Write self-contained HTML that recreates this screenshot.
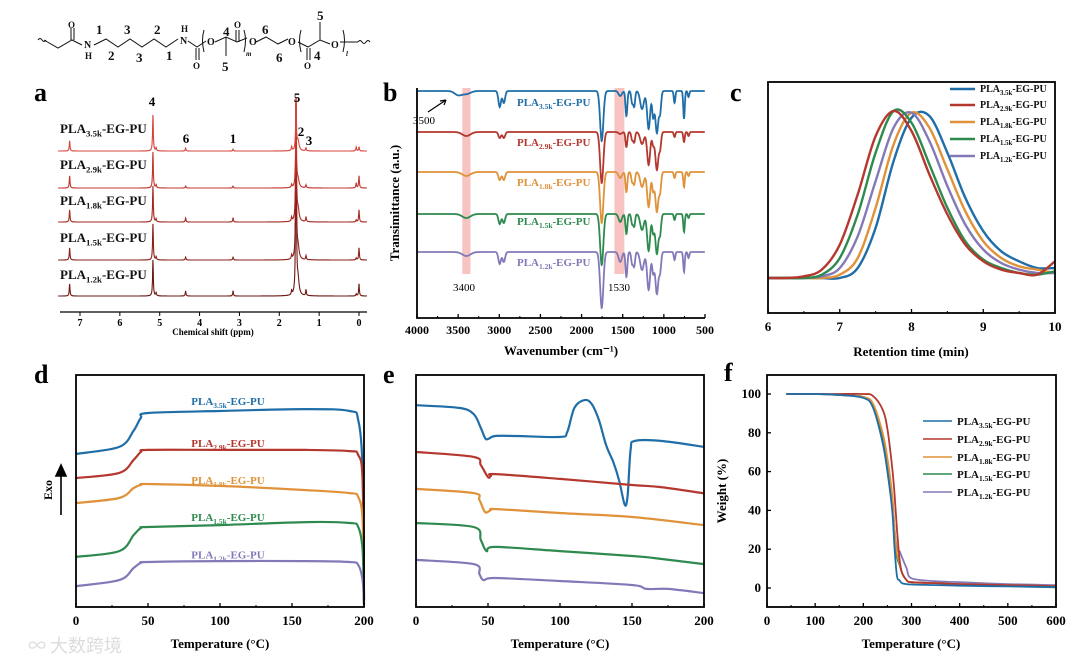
<!DOCTYPE html>
<html><head><meta charset="utf-8">
<style>
html,body{margin:0;padding:0;background:#fff;}
svg{display:block;font-family:"Liberation Serif","Noto Serif CJK SC",serif;}
</style></head>
<body>
<svg id="fig" width="1080" height="663" viewBox="0 0 1080 663" xmlns="http://www.w3.org/2000/svg">
<rect x="0" y="0" width="1080" height="663" fill="#fff"/>
<g stroke="#111" stroke-width="1" fill="none">
  <path d="M38,40 q2,-3 4,0 q2,3 4,0" />
  <polyline points="44,40 58,48 72,40 82,45"/>
  <line x1="71" y1="40" x2="71" y2="28"/><line x1="74" y1="40" x2="74" y2="28"/>
  <polyline points="94,45 106,39 118,47 130,39 142,47 154,39 166,47 178,39"/>
  <polyline points="188,41 197,47 206,41"/>
  <line x1="196" y1="48" x2="196" y2="60"/><line x1="199" y1="48" x2="199" y2="60"/>
  <path d="M204,30 q-3,10 0,22"/>
  <polyline points="215,42 226,37 237,42 247,38"/>
  <line x1="226" y1="37" x2="226" y2="56"/>
  <line x1="236" y1="42" x2="236" y2="30"/><line x1="239" y1="42" x2="239" y2="30"/>
  <path d="M244,30 q3,10 0,22"/>
  <polyline points="256,42 266,37 278,44 288,39"/>
  <path d="M301,30 q-3,10 0,22"/>
  <polyline points="298,42 308,47 320,40 330,44"/>
  <line x1="307" y1="48" x2="307" y2="60"/><line x1="310" y1="48" x2="310" y2="60"/>
  <line x1="320" y1="40" x2="320" y2="22"/>
  <path d="M343,30 q3,10 0,22"/>
  <polyline points="340,42 358,42"/>
  <path d="M358,42 q2,-3 4,0 q2,3 4,0 q2,-3 4,0"/>
</g>
<g font-weight="bold" font-size="13" fill="#111">
  <text x="68" y="28" font-size="9">O</text>
  <text x="84" y="48" font-size="10">N</text><text x="85" y="59" font-size="9">H</text>
  <text x="96" y="34">1</text><text x="108" y="60">2</text><text x="124" y="34">3</text><text x="136" y="62">3</text><text x="154" y="34">2</text><text x="166" y="60">1</text>
  <text x="180" y="44" font-size="10">N</text><text x="181" y="32" font-size="9">H</text>
  <text x="193" y="69" font-size="9">O</text>
  <text x="207" y="45" font-size="10">O</text>
  <text x="223" y="36">4</text><text x="222" y="71">5</text>
  <text x="234" y="28" font-size="9">O</text>
  <text x="246" y="56" font-size="7" font-style="italic">m</text>
  <text x="249" y="45" font-size="10">O</text>
  <text x="262" y="34">6</text><text x="276" y="62">6</text>
  <text x="288" y="45" font-size="10">O</text>
  <text x="304" y="69" font-size="9">O</text>
  <text x="314" y="60">4</text><text x="317" y="20">5</text>
  <text x="331" y="48" font-size="10">O</text>
  <text x="346" y="56" font-size="7" font-style="italic">l</text>
</g>
<g font-weight="bold" font-size="26" fill="#000">
  <text x="34" y="101">a</text><text x="383" y="101">b</text><text x="730" y="101">c</text>
  <text x="34" y="383">d</text><text x="383" y="383">e</text><text x="724" y="381">f</text>
</g>
<text x="28" y="652" font-size="18" fill="#dcdcdc" font-family="'Noto Sans CJK SC',sans-serif">∞ 大数跨境</text>
</svg>
<script>
// ---------- DATA ----------
const labelsSub=['3.5k','2.9k','1.8k','1.5k','1.2k'];
const mainColors=['#1f6ea8','#b5382f','#e0923a','#2e8a4f','#8479b8'];
const nmrColors=['#d8443c','#c2342c','#a52820','#8a2018','#6c1810'];
// NMR (panel a)
const nmrShifts=[7.26,5.17,5.09,4.35,3.16,1.69,1.58,1.53,1.33,0.07,0.0];
const nmrH35=[10,36,3,3,2,4,51,10,3,4,4];
const nmrH29=[12,36,3,2,2,3,90,8,3,5,12];
const nmrH18=[12,36,3,4,4,4,125,12,5,2,12];
const nmrH15=[12,36,3,3,3,4,160,12,4,2,12];
const nmrH12=[12,36,3,5,5,4,195,15,6,2,12];
const nmrTicks=[7,6,5,4,3,2,1,0];
// FTIR (panel b)
const irBands=[3500,3400,2995,2945,1755,1530,1455,1385,1360,1265,1185,1130,1085,1045,870,755,700];
const irD35=[4,3,16,12,50,5,25,12,15,18,38,25,42,20,12,28,6];
const irD29=[0,4,6,6,51,2,15,8,10,12,33,12,38,15,5,10,4];
const irD18=[0,4,8,8,51,6,20,10,12,15,35,18,40,18,6,15,4];
const irD15=[0,4,10,9,51,8,20,10,12,16,37,18,40,18,6,18,4];
const irD12=[0,4,12,10,56,10,25,12,14,18,38,20,42,18,8,20,6];
const irTicks=[4000,3500,3000,2500,2000,1500,1000,500];
// GPC (panel c)
const gpcTime=[6,6.25,6.5,6.75,7,7.25,7.5,7.75,8,8.25,8.5,8.75,9,9.25,9.5,9.75,10];
const gpc35=[0,0,0,0,0,0.06,0.3,0.7,0.96,0.97,0.75,0.48,0.28,0.16,0.1,0.06,0.06];
const gpc29=[0,0,0.01,0.05,0.2,0.5,0.85,1.0,0.88,0.62,0.38,0.2,0.1,0.05,0.03,0.02,0.1];
const gpc18=[0,0,0,0,0.02,0.12,0.42,0.8,0.99,0.9,0.65,0.4,0.22,0.12,0.07,0.05,0.03];
const gpc15=[0,0,0,0.02,0.12,0.38,0.75,1,0.93,0.68,0.42,0.22,0.11,0.06,0.03,0.02,0.04];
const gpc12=[0,0,0,0.01,0.06,0.25,0.58,0.9,0.99,0.82,0.55,0.32,0.17,0.09,0.05,0.03,0.03];
const gpcTicks=[6,7,8,9,10];
// DSC heating (panel d)
const dscT=[0,30,40,45,50,100,160,190,196,199,200];
const dscD35=[66,69,76,81.5,83.6,84.5,85.3,84.5,80.6,59,3];
const dscD29=[55.6,57.8,63.4,66.8,67.7,67.7,67.7,67.2,65.5,54.7,3];
const dscD18=[44.8,47,51.3,52.6,53,52.2,50.4,49.1,47.4,37.5,3];
const dscD15=[21.6,24.1,31,34,34.5,35.3,36.6,36.2,34.5,24.6,1];
const dscD12=[9,11.6,16.8,19,19.4,19.8,19.8,19.4,18.1,11.6,1];
const dscLabelY=[87,69,53,37,21];
// DSC cooling (panel e)
const dscE35T=[0,30,40,45,48,50,55,70,100,105,110,117,122,127,132,137,141,145,147,149,152,170,200];
const dscE35=[87,85.8,83.2,77.2,72.8,72.4,73.7,73.7,73.3,75.4,85.8,89.2,87.5,80.6,69.8,62.5,54.7,44,48.3,67.7,71.6,71.6,69];
const dscE29T=[0,40,45,50,52,55,100,150,170,200];
const dscE29=[66.8,64.7,61.2,56,56.5,57.3,55.2,52.6,51.7,49];
const dscE18T=[0,40,44,48,52,56,100,150,200];
const dscE18=[50.9,49.1,46.1,40.9,41.8,42.2,40.5,38.8,35.3];
const dscE15T=[0,40,45,49,55,100,150,165,200];
const dscE15=[36.2,34.5,28.9,24.1,25.9,24.1,22,21.1,18.5];
const dscE12T=[0,40,44,47,55,100,150,160,175,200];
const dscE12=[20.3,18.5,14.2,11.6,12.5,11.2,9.5,7.8,7.8,6];
const tempTicks=[0,50,100,150,200];
// TGA (panel f)
const tgaT=[40,100,150,200,220,240,250,260,265,270,275,280,290,300,350,400,500,600];
const tga35=[100,100,99.5,98,93,75,60,40,20,6,4,2.5,2,1.8,1.5,1.2,0.8,0.5];
const tga29=[100,100,100,100,99,92,82,62,48,30,15,8,4,3,2.5,2,1.5,1];
const tga18=[100,100,99.5,98.5,95,80,67,48,30,18,13,8,4,3,2.5,2,1.5,1];
const tga15=[100,100,99.5,98.5,94,78,64,45,28,16,12,8,4,3,2.5,2,1,0.3];
const tga12=[100,100,99.5,98.5,94,79,65,47,30,20,19,16,10,5,3.5,3,2,1.5];
const tgaXTicks=[0,100,200,300,400,500,600];
const tgaYTicks=[0,20,40,60,80,100];

// ---------- HELPERS ----------
const NS='http://www.w3.org/2000/svg';
const svg=document.getElementById('fig');
function el(tag,attrs,parent){const e=document.createElementNS(NS,tag);for(const k in attrs)e.setAttribute(k,attrs[k]);(parent||svg).appendChild(e);return e;}
function lin(d0,d1,r0,r1){return v=>r0+(v-d0)*(r1-r0)/(d1-d0);}
function linePath(pts){return 'M'+pts.map(p=>p[0].toFixed(1)+','+p[1].toFixed(1)).join('L');}
function smoothPath(p){let d='M'+p[0][0].toFixed(1)+','+p[0][1].toFixed(1);
 for(let i=0;i<p.length-1;i++){const a=p[Math.max(0,i-1)],b=p[i],c=p[i+1],e=p[Math.min(p.length-1,i+2)];
  const c1=[b[0]+(c[0]-a[0])/6,b[1]+(c[1]-a[1])/6],c2=[c[0]-(e[0]-b[0])/6,c[1]-(e[1]-b[1])/6];
  d+='C'+c1[0].toFixed(1)+','+c1[1].toFixed(1)+' '+c2[0].toFixed(1)+','+c2[1].toFixed(1)+' '+c[0].toFixed(1)+','+c[1].toFixed(1);}
 return d;}
function sampleLabel(parent,x,y,sub,fill,size,anchor){
 const t=el('text',{x:x,y:y,'font-size':size,'font-weight':'bold',fill:fill,'text-anchor':anchor||'start'},parent);
 t.appendChild(document.createTextNode('PLA'));
 const s=el('tspan',{'font-size':size*0.68,dy:size*0.28},t);s.textContent=sub;
 const r=el('tspan',{dy:-size*0.28},t);r.textContent='-EG-PU';
 return t;}
function xTicks(g,scale,ticks,y,labY,size,len){
 ticks.forEach(v=>{const x=scale(v);
  const tk=el('line',{x1:x,x2:x,y1:y,y2:y-len,stroke:'#000','stroke-width':1.3},g);
  
  
  const tl=el('text',{x:x,y:labY,'text-anchor':'middle','font-size':size,'font-weight':'bold'},g);
  
  
  tl.textContent=v;});
 for(let i=0;i<ticks.length-1;i++){const x=scale((ticks[i]+ticks[i+1])/2);
  const m=el('line',{x1:x,x2:x,y1:y,y2:y-len/2,stroke:'#000','stroke-width':1},g);
  
  }}
function box(g,x0,y0,x1,y1){const r=el('rect',{x:x0,y:y0,width:x1-x0,height:y1-y0,fill:'none',stroke:'#000','stroke-width':1.8},g);
 
 }
function title(g,x,y,txt,size,name,rot){const t=el('text',{x:x,y:y,'text-anchor':'middle','font-size':size,'font-weight':'bold'},g);
 if(rot)t.setAttribute('transform','rotate(-90 '+x+' '+y+')');
 
 
 t.textContent=txt;return t;}

// ---------- PANEL A: NMR ----------
(function(){
 const g=el('g',{});
 
 
 const x=lin(7,0,80,359);
 const bases=[151,188,222,260,296];
 const sets=[nmrH35,nmrH29,nmrH18,nmrH15,nmrH12];
 const labY=[133,169,205,242,279];
 for(let s=4;s>=0;s--){
  const pts=[];
  for(let p=7.55;p>=-0.2;p-=0.004){let v=0;
   nmrShifts.forEach((c,i)=>{const w=(i===7?0.03:0.011);v+=sets[s][i]/(1+((p-c)/w)**2);});
   pts.push([x(p),bases[s]-v]);}
  const path=el('path',{d:linePath(pts),fill:'none',stroke:nmrColors[s],'stroke-width':1.1},g);
  
  
  const lb=sampleLabel(g,60,labY[s],labelsSub[s],'#111',13);
  
  
 }
 const ax=el('line',{x1:60,x2:367,y1:312,y2:312,stroke:'#000','stroke-width':1.3},g);
 
 
 nmrTicks.forEach(v=>{const t=el('line',{x1:x(v),x2:x(v),y1:312,y2:316,stroke:'#000'},g);
  
  
  const l=el('text',{x:x(v),y:326,'text-anchor':'middle','font-size':10,'font-weight':'bold'},g);
  
  
  l.textContent=v;});
 title(g,213,335,'Chemical shift (ppm)',9,'x-axis-title');
 [['4',152,106],['5',297,102],['6',186,143],['1',233,143],['2',301,136],['3',309,145]].forEach(a=>{
  const t=el('text',{x:a[1],y:a[2],'font-size':13,'font-weight':'bold','text-anchor':'middle'},g);
  
  
  t.textContent=a[0];});
})();

// ---------- PANEL B: FTIR ----------
(function(){
 const g=el('g',{});
 
 
 const x=lin(4000,500,417,705);
 const bases=[91,132,172,214,252];
 const sets=[irD35,irD29,irD18,irD15,irD12];
 const widths=[60,70,22,22,28,28,16,16,15,32,26,18,26,18,13,13,13];
 const b1=el('rect',{x:x(3450),y:88,width:x(3350)-x(3450),height:186,fill:'#f6b5b3',opacity:0.8},g);
 
 
 const b2=el('rect',{x:x(1600),y:88,width:x(1480)-x(1600),height:186,fill:'#f6b5b3',opacity:0.8},g);
 
 
 const labY=[106,146,186,225,266];
 for(let s=0;s<5;s++){
  const pts=[];
  for(let w=4000;w>=500;w-=3){let v=0;
   irBands.forEach((c,i)=>{v+=sets[s][i]*Math.exp(-(((w-c)/widths[i])**2));});
   pts.push([x(w),bases[s]+v]);}
  const p=el('path',{d:linePath(pts),fill:'none',stroke:mainColors[s],'stroke-width':1.8},g);
  
  
  const lb=sampleLabel(g,517,labY[s],labelsSub[s],mainColors[s],11);
  
  
 }
 const ax=el('path',{d:'M417,88 L417,318 L705,318',fill:'none',stroke:'#000','stroke-width':1.8},g);
 
 
 xTicks(g,x,irTicks,318,334,12,4);
 title(g,561,355,'Wavenumber (cm⁻¹)',13,'x-axis-title');
 title(g,399,203,'Transimittance (a.u.)',13,'y-axis-title',true);
 [['3500',413,124],['3400',453,291],['1530',608,291]].forEach(a=>{
  const t=el('text',{x:a[1],y:a[2],'font-size':11},g);
  
  
  t.textContent=a[0];});
 const ar=el('path',{d:'M428,112 L446,100 M446,100 l-6,1 M446,100 l-2,5',stroke:'#000','stroke-width':1.2,fill:'none'},g);
 
 
})();

// ---------- PANEL C: GPC ----------
(function(){
 const g=el('g',{});
 
 
 const x=lin(6,10,768,1055), y=lin(0,1,278,111);
 const sets=[gpc35,gpc29,gpc18,gpc15,gpc12];
 const order=[0,2,4,3,1];
 order.forEach(s=>{
  const pts=gpcTime.map((t,i)=>[x(t),y(sets[s][i])]);
  const p=el('path',{d:smoothPath(pts),fill:'none',stroke:mainColors[s],'stroke-width':2.4},g);
  
  });
 box(g,768,82,1055,313);
 xTicks(g,x,gpcTicks,313,331,13,4);
 title(g,911,356,'Retention time (min)',13,'x-axis-title');
 const ly=[89,105,122,139,156];
 for(let s=0;s<5;s++){
  const l=el('line',{x1:950,x2:975,y1:ly[s],y2:ly[s],stroke:mainColors[s],'stroke-width':2.5},g);
  
  
  const t=sampleLabel(g,980,ly[s]+3,labelsSub[s],'#111',10);
  
  }
})();

// ---------- PANEL D & E: DSC ----------
function dscPanel(name,x0,x1,tSets,vSets,withLabels){
 const g=el('g',{});
 
 
 const x=lin(0,200,x0,x1), y=lin(0,100,607,375);
 for(let s=0;s<5;s++){
  const pts=tSets[s].map((t,i)=>[x(t),y(vSets[s][i])]);
  const p=el('path',{d:smoothPath(pts),fill:'none',stroke:mainColors[s],'stroke-width':2.2},g);
  
  
  if(withLabels){const lb=sampleLabel(g,(x0+x1)/2+8,y(dscLabelY[s]),labelsSub[s],mainColors[s],11,'middle');
   
   }
 }
 box(g,x0,375,x1,607);
 xTicks(g,x,tempTicks,607,625,13,4);
 title(g,(x0+x1)/2,648,'Temperature (°C)',13,'x-axis-title');
 return g;}
(function(){
 const gd=dscPanel('panel-d-dsc-heating',76,364,[dscT,dscT,dscT,dscT,dscT],[dscD35,dscD29,dscD18,dscD15,dscD12],true);
 title(gd,52,490,'Exo',12,'exo-label',true);
 const a=el('path',{d:'M61,515 L61,468 M56,476 L61,465 L66,476 Z',stroke:'#000','stroke-width':1.6,fill:'#000'},gd);
 
 
 dscPanel('panel-e-dsc-cooling',416,704,[dscE35T,dscE29T,dscE18T,dscE15T,dscE12T],[dscE35,dscE29,dscE18,dscE15,dscE12],false);
})();

// ---------- PANEL F: TGA ----------
(function(){
 const g=el('g',{});
 
 
 const x=lin(0,600,767,1056), y=lin(0,100,588,394);
 const sets=[tga35,tga29,tga18,tga15,tga12];
 [4,3,2,1,0].forEach(s=>{
  const pts=tgaT.map((t,i)=>[x(t),y(sets[s][i])]);
  const p=el('path',{d:smoothPath(pts),fill:'none',stroke:mainColors[s],'stroke-width':1.8},g);
  
  });
 box(g,767,375,1056,607);
 xTicks(g,x,tgaXTicks,607,625,13,4);
 tgaYTicks.forEach(v=>{const tk=el('line',{x1:767,x2:771,y1:y(v),y2:y(v),stroke:'#000','stroke-width':1.3},g);
  
  
  const l=el('text',{x:761,y:y(v)+4,'text-anchor':'end','font-size':13,'font-weight':'bold'},g);
  
  
  l.textContent=v;});
 title(g,911,648,'Temperature (°C)',13,'x-axis-title');
 title(g,726,491,'Weight (%)',13,'y-axis-title',true);
 const ly=[421,439,457,474,492];
 for(let s=0;s<5;s++){
  const l=el('line',{x1:923,x2:952,y1:ly[s],y2:ly[s],stroke:mainColors[s],'stroke-width':1.6},g);
  
  
  const t=sampleLabel(g,957,ly[s]+4,labelsSub[s],'#111',11);
  
  }
})();
</script>
</body></html>
